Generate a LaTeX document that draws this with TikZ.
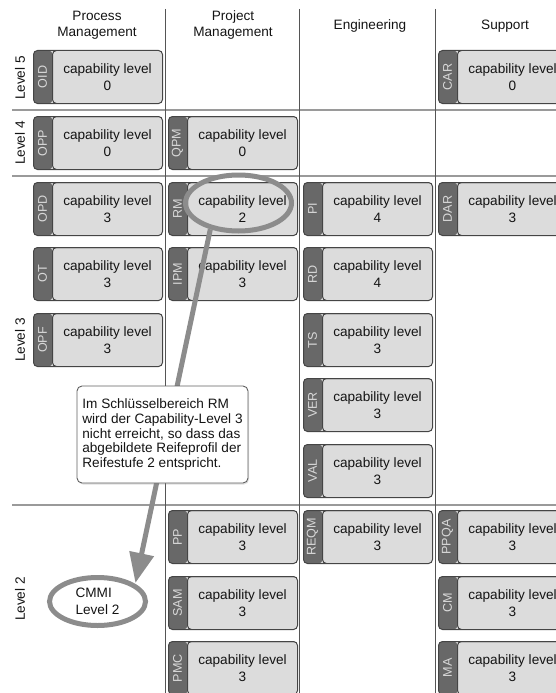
\documentclass[tikz,border=0pt]{standalone}
\usepackage{fontspec}
\setmainfont{Liberation Sans}
\usetikzlibrary{arrows.meta,shapes.geometric,shadows}

\definecolor{boxfill}{HTML}{DCDCDC}
\definecolor{boxline}{HTML}{454545}
\definecolor{tabfill}{HTML}{686868}
\definecolor{tabtext}{HTML}{D8D8D8}
\definecolor{gridh}{HTML}{9A9A9A}
\definecolor{gridv}{HTML}{555555}
\definecolor{ring}{HTML}{8C8C8C}
\definecolor{ink}{HTML}{141414}

\tikzset{
  capbox/.style={anchor=north west, minimum width=129pt, minimum height=53pt,
    inner sep=0pt, rounded corners=4pt, draw=boxline, line width=1pt, fill=boxfill,
    path picture={
      \fill[tabfill] (path picture bounding box.north west)
        rectangle ([xshift=19pt]path picture bounding box.south west);
      \draw[boxline, line width=1pt, fill=boxfill, rounded corners=4pt]
        ([xshift=19pt]path picture bounding box.north west)
        rectangle ([xshift=10pt]path picture bounding box.south east);
    }},
  tabtext/.style={rotate=90, text=tabtext, inner sep=0pt, font=\fontsize{12.6}{14}\selectfont},
  captext/.style={align=center, text=ink, inner sep=0pt, font=\fontsize{13.6}{17}\selectfont},
  header/.style={align=center, text=ink, inner sep=0pt, font=\fontsize{13.6}{16}\selectfont},
  levellabel/.style={rotate=90, text=ink, inner sep=0pt, font=\fontsize{13.6}{16}\selectfont},
  hsep/.style={draw=gridh, line width=1.8pt},
  vsep/.style={draw=gridv, line width=0.9pt},
  ringmark/.style={ellipse, draw=ring, line width=5pt, inner sep=0pt},
  pointer/.style={draw=ring, line width=5pt, -{Triangle[length=30pt,width=24pt]}},
  callout/.style={draw=gray!75!black, line width=0.9pt, fill=white, rounded corners=5pt,
    minimum width=171pt, minimum height=97pt, inner xsep=4pt, align=left, text=ink,
    font=\fontsize{13.6}{14.6}\selectfont,
    drop shadow={shadow xshift=1pt, shadow yshift=-1.5pt, opacity=0.25}},
}

% one process-area box: name, left x, top y, abbreviation, capability level
\newcommand{\cmmibox}[5]{%
  \node[capbox] (#1) at (#2,#3) {};
  \node[tabtext] (#1-tab) at ([xshift=9.5pt]#1.west) {#4};
  \node[captext] (#1-txt) at ([xshift=9.5pt]#1.center) {capability level\\#5};
}

\begin{document}
\begin{tikzpicture}[x=1pt, y=-1pt]
  \useasboundingbox (0,0) rectangle (556,693);
  \clip (0,0) rectangle (556,693);

  % grid
  \coordinate (h1a) at (12,110); \coordinate (h1b) at (556,110);
  \coordinate (h2a) at (12,176); \coordinate (h2b) at (556,176);
  \coordinate (h3a) at (12,505); \coordinate (h3b) at (556,505);
  \draw[hsep] (h1a) -- (h1b);
  \draw[hsep] (h2a) -- (h2b);
  \draw[hsep] (h3a) -- (h3b);
  \coordinate (v1a) at (165,9); \coordinate (v1b) at (165,693);
  \coordinate (v2a) at (299,9); \coordinate (v2b) at (299,693);
  \coordinate (v3a) at (435,9); \coordinate (v3b) at (435,693);
  \draw[vsep] (v1a) -- (v1b);
  \draw[vsep] (v2a) -- (v2b);
  \draw[vsep] (v3a) -- (v3b);

  % column headers
  \node[header] (hpm)  at (97,25)  {Process\\Management};
  \node[header] (hprj) at (233,25) {Project\\Management};
  \node[header] (heng) at (370,26) {Engineering};
  \node[header] (hsup) at (505,26) {Support};

  % row labels
  \node[levellabel] (l5) at (20,78)  {Level 5};
  \node[levellabel] (l4) at (20,143) {Level 4};
  \node[levellabel] (l3) at (20,340) {Level 3};
  \node[levellabel] (l2) at (20,599) {Level 2};

  % Process Management
  \cmmibox{oid}{33}{50}{OID}{0}
  \cmmibox{opp}{33}{116}{OPP}{0}
  \cmmibox{opd}{33}{182}{OPD}{3}
  \cmmibox{ot}{33}{247}{OT}{3}
  \cmmibox{opf}{33}{313}{OPF}{3}

  % Project Management
  \cmmibox{qpm}{168}{116}{QPM}{0}
  \cmmibox{rm}{168}{182}{RM}{2}
  \cmmibox{ipm}{168}{247}{IPM}{3}
  \cmmibox{pp}{168}{510}{PP}{3}
  \cmmibox{sam}{168}{576}{SAM}{3}
  \cmmibox{pmc}{168}{641}{PMC}{3}

  % Engineering
  \cmmibox{pi}{303}{182}{PI}{4}
  \cmmibox{rd}{303}{247}{RD}{4}
  \cmmibox{ts}{303}{313}{TS}{3}
  \cmmibox{ver}{303}{378}{VER}{3}
  \cmmibox{val}{303}{444}{VAL}{3}
  \cmmibox{reqm}{303}{510}{REQM}{3}

  % Support
  \cmmibox{car}{438}{50}{CAR}{0}
  \cmmibox{dar}{438}{182}{DAR}{3}
  \cmmibox{ppqa}{438}{510}{PPQA}{3}
  \cmmibox{cm}{438}{576}{CM}{3}
  \cmmibox{ma}{438}{641}{MA}{3}

  % highlighted weak area and resulting maturity level
  \node[ringmark, minimum width=106pt, minimum height=56pt] (rmring) at (238.5,203) {};
  \node[ringmark, minimum width=96pt, minimum height=48pt, align=left, text=ink,
        font=\fontsize{13.6}{17}\selectfont] (cmmi) at (97.5,601.5) {CMMI\\Level 2};
  \draw[pointer, shorten >=1pt] (rmring.223) -- (cmmi.25);

  % explanation
  \node[callout] (note) at (162.5,434.5) {Im Schlüsselbereich RM\\wird der Capability-Level 3\\nicht erreicht, so dass das\\abgebildete Reifeprofil der\\Reifestufe 2 entspricht.};
\end{tikzpicture}
\end{document}
